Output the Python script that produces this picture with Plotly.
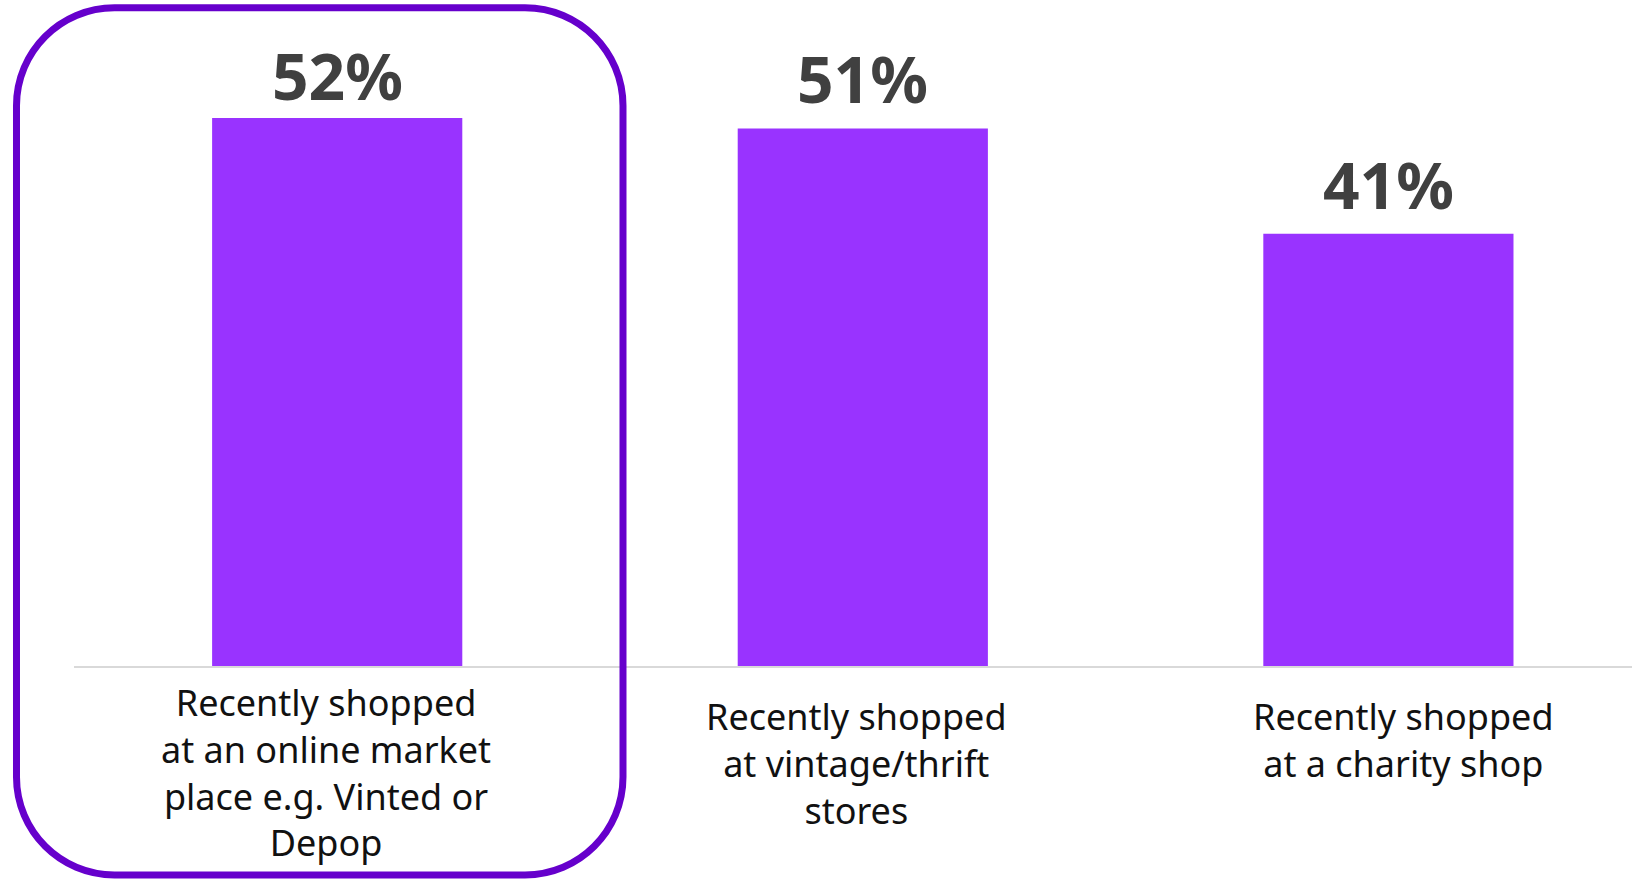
import plotly.graph_objects as go

categories = ["online", "vintage", "charity"]
values = [52, 51, 41]
value_labels = ["52%", "51%", "41%"]
cat_labels = [
    "Recently shopped<br>at an online market<br>place e.g. Vinted or<br>Depop",
    "Recently shopped<br>at vintage/thrift<br>stores",
    "Recently shopped<br>at a charity shop",
]
value_yshift = [-3, 4, 4]
label_xshift = [-11, -6, 15]
label_yshift = [-10, -24, -24]

W, H = 1632, 880
ML, MR, MT, MB = 74, 0, 0, 214
PW, PH = W - ML - MR, H - MT - MB
spacing = 525.6
x0 = -0.5 + (ML - 74.4) / spacing
x1 = x0 + PW / spacing
y_top = PH / 10.54

fig = go.Figure()
fig.add_trace(go.Bar(
    x=categories, y=values,
    marker=dict(color="#9933FF", line=dict(width=0)),
    hoverinfo="skip",
))

for c, v, t, ys in zip(categories, values, value_labels, value_yshift):
    fig.add_annotation(
        x=c, y=v, text="<b>" + t + "</b>", showarrow=False,
        xref="x", yref="y", yanchor="bottom", yshift=ys,
        font=dict(family="Noto Sans", size=64, color="#404040"),
    )

for c, t, xs, ys in zip(categories, cat_labels, label_xshift, label_yshift):
    fig.add_annotation(
        x=c, y=0, text=t, showarrow=False, xref="x", yref="y",
        yanchor="top", xanchor="center", xshift=xs, yshift=ys, align="center",
        font=dict(family="Noto Sans", size=36, color="#111111"),
    )

# rounded highlight frame (pixel geometry converted to paper coords)
L, R, T, B, r = 16.5, 623, 7.8, 875, 98
k = 0.5523 * r


def px(x):
    return (x - ML) / PW


def py(y):
    return (MT + PH - y) / PH


def P(x, y):
    return f"{px(x):.5f},{py(y):.5f}"


path = (
    f"M {P(L + r, T)} L {P(R - r, T)} "
    f"C {P(R - r + k, T)} {P(R, T + r - k)} {P(R, T + r)} "
    f"L {P(R, B - r)} "
    f"C {P(R, B - r + k)} {P(R - r + k, B)} {P(R - r, B)} "
    f"L {P(L + r, B)} "
    f"C {P(L + r - k, B)} {P(L, B - r + k)} {P(L, B - r)} "
    f"L {P(L, T + r)} "
    f"C {P(L, T + r - k)} {P(L + r - k, T)} {P(L + r, T)} Z"
)
fig.add_shape(type="path", path=path, xref="paper", yref="paper",
              line=dict(color="#6600CC", width=7), layer="above")

fig.update_layout(
    width=W, height=H,
    margin=dict(l=ML, r=MR, t=MT, b=MB),
    paper_bgcolor="white", plot_bgcolor="white",
    bargap=0.524, showlegend=False,
    xaxis=dict(range=[x0, x1], showticklabels=False, ticks="", showgrid=False,
               showline=True, linecolor="#D9D9D9", linewidth=2, zeroline=False),
    yaxis=dict(range=[0, y_top], visible=False, showgrid=False, zeroline=False),
)

fig.write_html("out.html")
